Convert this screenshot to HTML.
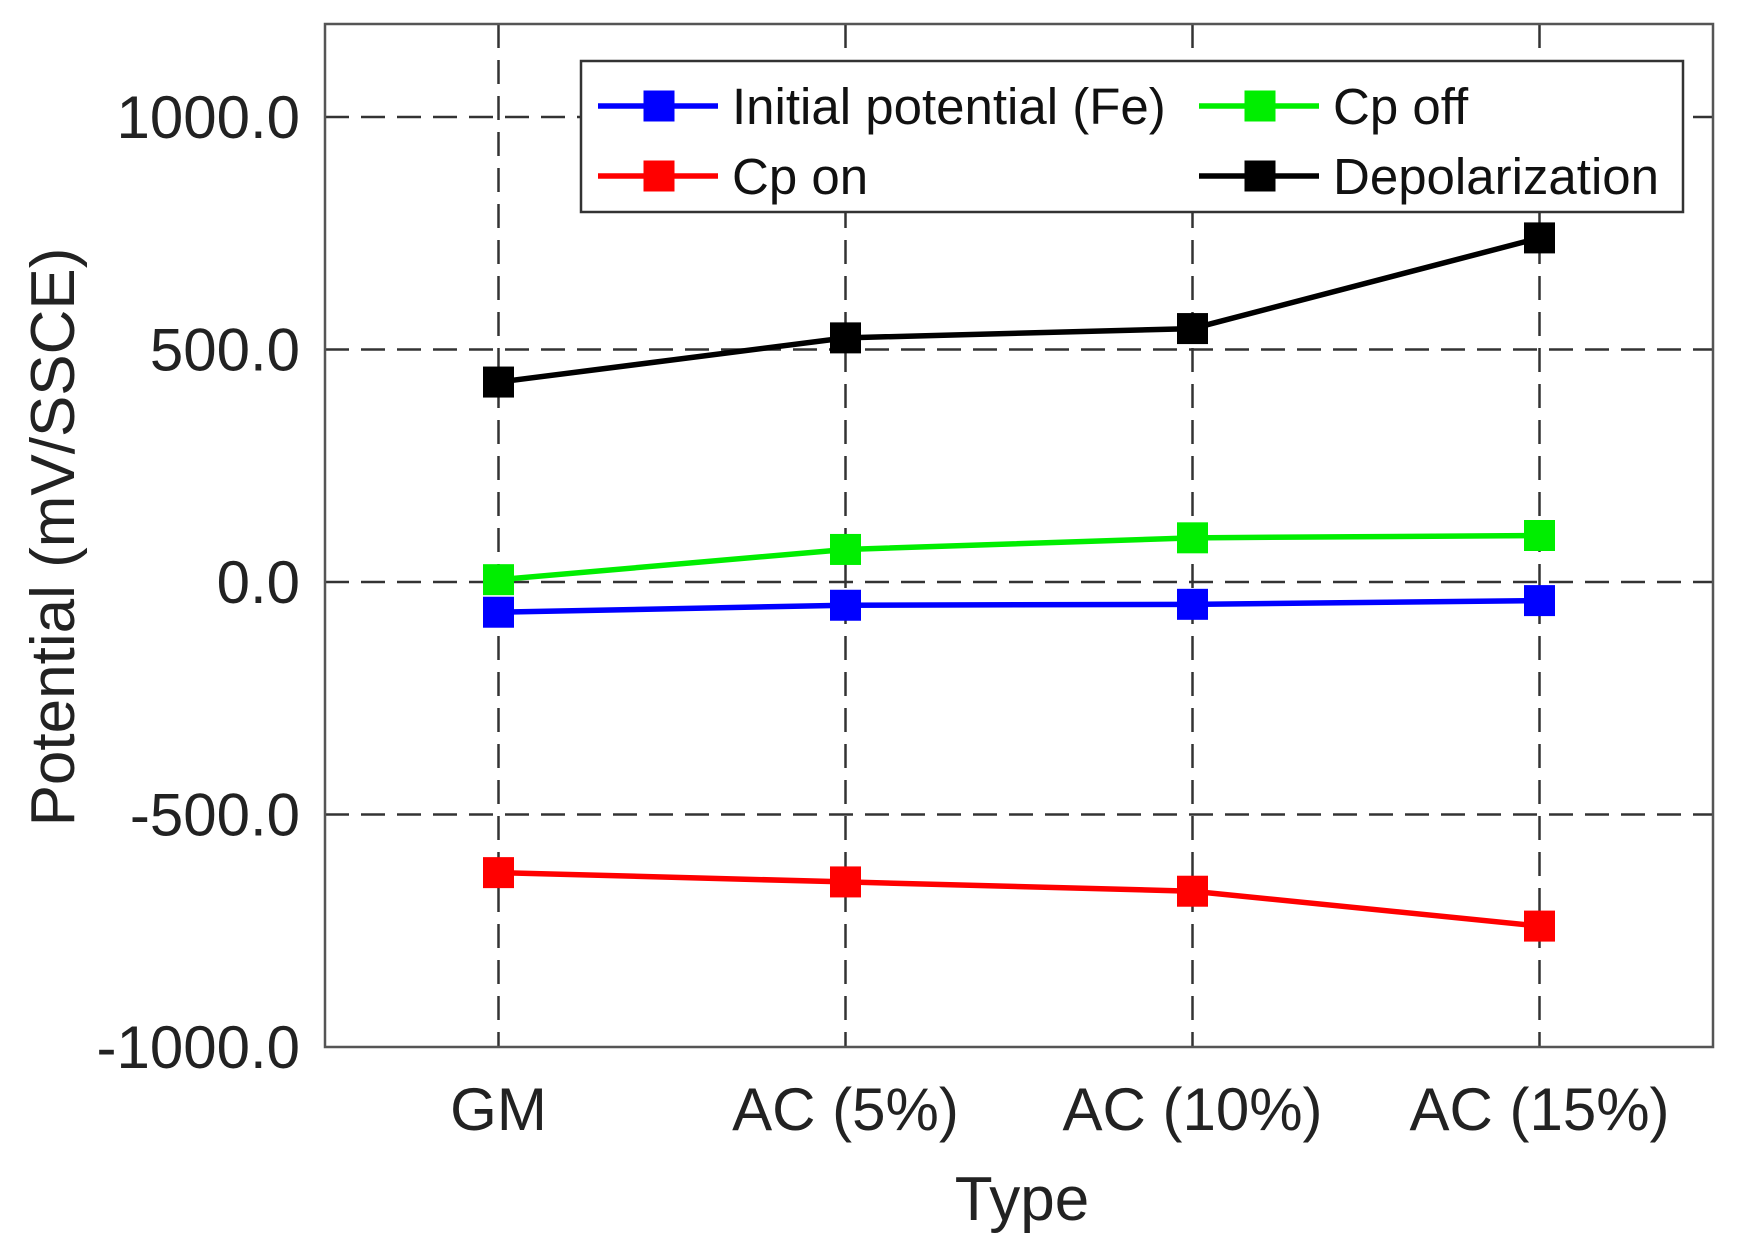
<!DOCTYPE html>
<html><head><meta charset="utf-8"><style>
html,body{margin:0;padding:0;background:#fff}
svg{display:block;font-family:"Liberation Sans",Arial,sans-serif}
</style></head><body>
<svg id="chart" width="1738" height="1247" viewBox="0 0 1738 1247"></svg>
<script>
const categories=["GM","AC (5%)","AC (10%)","AC (15%)"];
const yTicks=[-1000,-500,0,500,1000];
const yTickLabels=["-1000.0","-500.0","0.0","500.0","1000.0"];
const initialFe=[-65,-50,-48,-40];
const cpOff=[5,70,95,100];
const cpOn=[-625,-645,-665,-740];
const depol=[430,525,545,740];
const seriesNames=["Initial potential (Fe)","Cp off","Cp on","Depolarization"];

const L=325,R=1713,T=24,B=1047,yMin=-1000,yMax=1200;
const xS=i=>L+(i+0.5)/categories.length*(R-L);
const yS=v=>B-(v-yMin)/(yMax-yMin)*(B-T);
const svg=document.getElementById('chart');
const NS='http://www.w3.org/2000/svg';
function mk(tag,attrs,parent){const e=document.createElementNS(NS,tag);for(const k in attrs)e.setAttribute(k,attrs[k]);(parent||svg).appendChild(e);return e;}

yTicks.forEach((v,i)=>{
  if(v===yMin)return;
  const g=mk('line',{x1:L,x2:R,y1:yS(v),y2:yS(v),stroke:'#333','stroke-width':2.5,'stroke-dasharray':'24 12'});
  
  
});
categories.forEach((c,i)=>{
  const g=mk('line',{x1:xS(i),x2:xS(i),y1:T,y2:B,stroke:'#333','stroke-width':2.5,'stroke-dasharray':'24 12'});
  
  
});
const fr=mk('rect',{x:L,y:T,width:R-L,height:B-T,fill:'none',stroke:'#555','stroke-width':2.5});



yTicks.forEach((v,i)=>{
  const t=mk('text',{x:300,y:yS(v)+21,'text-anchor':'end','font-size':60,fill:'#222'});
  t.textContent=yTickLabels[i];
  
  
});
categories.forEach((c,i)=>{
  const t=mk('text',{x:xS(i),y:1130,'text-anchor':'middle','font-size':60,fill:'#222'});
  t.textContent=c;
  
  
});
const xt=mk('text',{x:1022,y:1220,'text-anchor':'middle','font-size':62,fill:'#222'});
xt.textContent='Type';


const yt=mk('text',{x:0,y:0,'text-anchor':'middle','font-size':62,fill:'#222',transform:'translate(74,537) rotate(-90)'});
yt.textContent='Potential (mV/SSCE)';



const series=[[initialFe,'#0000ff','initial-potential'],[cpOff,'#00ee00','cp-off'],[cpOn,'#ff0000','cp-on'],[depol,'#000000','depolarization']];
const ms=31;
series.forEach(([vals,col,name])=>{
  const pts=vals.map((v,i)=>xS(i)+','+yS(v)).join(' ');
  const pl=mk('polyline',{points:pts,fill:'none',stroke:col,'stroke-width':5.5});
  
  
  vals.forEach((v,i)=>{
    const r=mk('rect',{x:xS(i)-ms/2,y:yS(v)-ms/2,width:ms,height:ms,fill:col});
    
    
  });
});

const lg=mk('g',{});


mk('rect',{x:581,y:61,width:1102,height:151,fill:'#fff',stroke:'#333','stroke-width':2.5},lg);
const entries=[[0,598,106,'#0000ff'],[1,1199,106,'#00ee00'],[2,598,176,'#ff0000'],[3,1199,176,'#000000']];
entries.forEach(([idx,x,y,col])=>{
  const g=mk('g',{},lg);
  
  
  mk('line',{x1:x,x2:x+120,y1:y,y2:y,stroke:col,'stroke-width':5.5},g);
  mk('rect',{x:x+61-ms/2,y:y-ms/2,width:ms,height:ms,fill:col},g);
  const t=mk('text',{x:x+134,y:y+18,'font-size':51,fill:'#111'},g);
  t.textContent=seriesNames[idx];
});
</script>
</body></html>
